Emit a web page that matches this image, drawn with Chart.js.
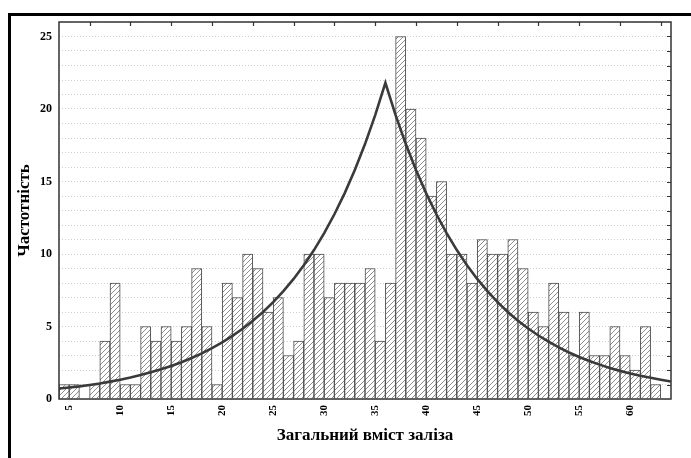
<!DOCTYPE html>
<html>
<head>
<meta charset="utf-8">
<script src="https://cdn.jsdelivr.net/npm/chart.js@4.4.1/dist/chart.umd.min.js"></script>
<style>
  html, body { margin: 0; padding: 0; background: #fff; }
  #wrap { width: 691px; height: 458px; }
</style>
</head>
<body>
<div id="wrap"><canvas id="hist" width="691" height="458"></canvas></div>
<script>
    // Histogram bins (width 1), centre of each bin
    const binCenters = [4.5, 5.5, 6.5, 7.5, 8.5, 9.5, 10.5, 11.5, 12.5, 13.5,
        14.5, 15.5, 16.5, 17.5, 18.5, 19.5, 20.5, 21.5, 22.5, 23.5,
        24.5, 25.5, 26.5, 27.5, 28.5, 29.5, 30.5, 31.5, 32.5, 33.5,
        34.5, 35.5, 36.5, 37.5, 38.5, 39.5, 40.5, 41.5, 42.5, 43.5,
        44.5, 45.5, 46.5, 47.5, 48.5, 49.5, 50.5, 51.5, 52.5, 53.5,
        54.5, 55.5, 56.5, 57.5, 58.5, 59.5, 60.5, 61.5, 62.5];
    const counts = [1, 1, 0, 1, 4, 8, 1, 1, 5, 4,
        5, 4, 5, 9, 5, 1, 8, 7, 10, 9,
        6, 7, 3, 4, 10, 10, 7, 8, 8, 8,
        9, 4, 8, 25, 20, 18, 14, 15, 10, 10,
        8, 11, 10, 10, 11, 9, 6, 5, 8, 6,
        3, 6, 3, 3, 5, 3, 2, 5, 1];

    // Fitted curve
    const curveX = [4, 5, 6, 7, 8, 9, 10, 11, 12, 13, 14, 15, 16, 17, 18, 19, 20,
        21, 22, 23, 24, 25, 26, 27, 28, 29, 30, 31, 32, 33, 34, 35, 36,
        37, 38, 39, 40, 41, 42, 43, 44, 45, 46, 47, 48, 49, 50,
        51, 52, 53, 54, 55, 56, 57, 58, 59, 60, 61, 62, 63, 64];
    const curveY = [0.72, 0.79, 0.87, 0.97, 1.07, 1.20, 1.33, 1.48, 1.65, 1.84, 2.05, 2.28, 2.54, 2.83, 3.15, 3.51, 3.90,
        4.35, 4.84, 5.39, 6.00, 6.68, 7.44, 8.28, 9.22, 10.27, 11.44, 12.74, 14.18, 15.79, 17.58, 19.58, 21.80,
        19.58, 17.58, 15.79, 14.18, 12.74, 11.44, 10.27, 9.22, 8.28, 7.44, 6.68, 6.00, 5.39, 4.86,
        4.38, 3.95, 3.56, 3.21, 2.90, 2.62, 2.37, 2.14, 1.94, 1.76, 1.60, 1.46, 1.33, 1.21];

    const xTicks = [5, 10, 15, 20, 25, 30, 35, 40, 45, 50, 55, 60];
    const yTicks = [0, 5, 10, 15, 20, 25];
    const topTicks = [7, 11, 15, 19, 23, 27, 31, 35, 39, 43, 47, 51, 55, 59, 63];

    const serif = '"Liberation Serif", "Times New Roman", serif';

    // diagonal hatch fill for the bars
    function makeHatch() {
        const c = document.createElement('canvas');
        c.width = 5; c.height = 5;
        const g = c.getContext('2d');
        g.fillStyle = '#fff';
        g.fillRect(0, 0, 5, 5);
        g.strokeStyle = '#707070';
        g.lineWidth = 0.8;
        g.beginPath();
        g.moveTo(0, 5); g.lineTo(5, 0);
        g.moveTo(-1, 1); g.lineTo(1, -1);
        g.moveTo(4, 6); g.lineTo(6, 4);
        g.stroke();
        return g.createPattern(c, 'repeat');
    }

    const framePlugin = {
        id: 'frame',
        beforeDraw(chart) {
            const ctx = chart.ctx;
            ctx.save();
            ctx.fillStyle = '#fff';
            ctx.fillRect(0, 0, chart.width, chart.height);
            ctx.restore();
        },
        afterDraw(chart) {
            const ctx = chart.ctx;
            const a = chart.chartArea;
            const xs = chart.scales.x, ys = chart.scales.y;
            ctx.save();
            // plot box
            ctx.strokeStyle = '#333';
            ctx.lineWidth = 1.5;
            ctx.strokeRect(a.left, a.top, a.right - a.left, a.bottom - a.top);
            // inward ticks on top and right
            ctx.lineWidth = 1.2;
            ctx.beginPath();
            topTicks.forEach(v => {
                const px = Math.round(xs.getPixelForValue(v)) + 0.5;
                ctx.moveTo(px, a.top); ctx.lineTo(px, a.top + 4);
            });
            for (let v = 1; v < 26; v++) {
                const py = Math.round(ys.getPixelForValue(v)) + 0.5;
                ctx.moveTo(a.right, py); ctx.lineTo(a.right - 4, py);
            }
            ctx.stroke();
            // outer black frame (left and top)
            ctx.fillStyle = '#000';
            ctx.fillRect(8, 13, 3, chart.height - 13);
            ctx.fillRect(8, 13, chart.width - 8, 3);
            ctx.restore();
        }
    };

    new Chart(document.getElementById('hist'), {
        type: 'bar',
        data: {
            datasets: [{
                type: 'line',
                data: curveX.map((x, i) => ({ x: x, y: curveY[i] })),
                borderColor: '#3a3a3a',
                borderWidth: 2.6,
                pointRadius: 0,
                tension: 0,
                fill: false,
                order: 0
            }, {
                type: 'bar',
                data: binCenters.map((x, i) => ({ x: x, y: counts[i] })),
                backgroundColor: makeHatch(),
                borderColor: '#4a4a4a',
                borderWidth: 1,
                borderSkipped: 'start',
                barPercentage: 1,
                categoryPercentage: 1,
                order: 1
            }]
        },
        options: {
            responsive: false,
            animation: false,
            devicePixelRatio: 1,
            layout: { padding: { top: 22, right: 20, bottom: 0, left: 0 } },
            plugins: { legend: { display: false }, tooltip: { enabled: false } },
            scales: {
                x: {
                    type: 'linear',
                    min: 4,
                    max: 64,
                    offset: false,
                    grid: { display: false, drawTicks: false, offset: false },
                    border: { display: false },
                    afterBuildTicks: s => { s.ticks = xTicks.map(v => ({ value: v })); },
                    afterFit: s => { s.height = 59; },
                    ticks: {
                        autoSkip: false,
                        minRotation: 90,
                        maxRotation: 90,
                        padding: 6,
                        color: '#000',
                        font: { family: serif, size: 11, weight: 'bold' }
                    },
                    title: {
                        display: true,
                        text: 'Загальний вміст заліза',
                        color: '#000',
                        font: { family: serif, size: 17, weight: 'bold' },
                        padding: { top: 0, bottom: 12 }
                    }
                },
                y: {
                    min: 0,
                    max: 26,
                    grid: { color: '#cfcfcf', lineWidth: 1, drawTicks: false },
                    border: { display: false, dash: [1, 2] },
                    afterFit: s => { s.width = 59; },
                    ticks: {
                        stepSize: 1,
                        autoSkip: false,
                        padding: 7,
                        color: '#000',
                        font: { family: serif, size: 12, weight: 'bold' },
                        callback: v => yTicks.includes(v) ? String(v) : ''
                    },
                    title: {
                        display: true,
                        text: 'Частотність',
                        color: '#000',
                        font: { family: serif, size: 17, weight: 'bold' },
                        padding: { top: 14, bottom: 0 }
                    }
                }
            }
        },
        plugins: [framePlugin]
    });
</script>
</body>
</html>
